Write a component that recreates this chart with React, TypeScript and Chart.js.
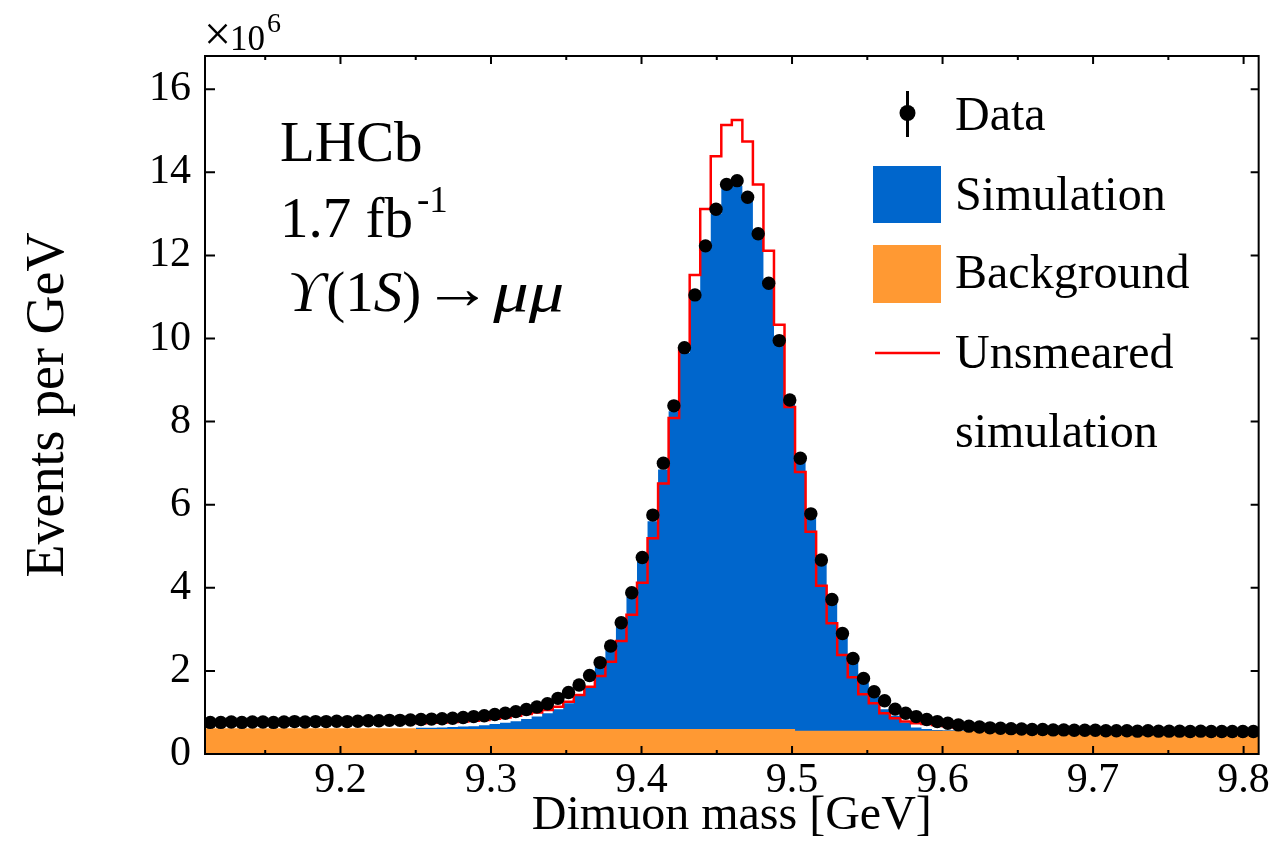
import React, { useEffect, useRef } from "react";
import { Chart, registerables } from "chart.js";

Chart.register(...registerables);

const FONT = '"Liberation Serif", "Times New Roman", "DejaVu Serif", serif';

const X_MIN = 9.11;
const X_MAX = 9.81;
const BIN_WIDTH = 0.007;
const Y_MIN = 0;
const Y_MAX = 16.8;

const xTickValues = [9.2, 9.3, 9.4, 9.5, 9.6, 9.7, 9.8];
const xMinorTickValues = [9.15, 9.25, 9.35, 9.45, 9.55, 9.65, 9.75];
const yTickValues = [0, 2, 4, 6, 8, 10, 12, 14, 16];

// Events per GeV (x10^6), 100 bins of 7 MeV from 9.11 to 9.81 GeV
const dataValues = [
  0.76, 0.76, 0.77, 0.76, 0.77, 0.77, 0.76, 0.77, 0.78, 0.77,
  0.78, 0.78, 0.79, 0.78, 0.79, 0.80, 0.80, 0.81, 0.81, 0.82,
  0.83, 0.84, 0.85, 0.86, 0.88, 0.90, 0.92, 0.95, 0.98, 1.02,
  1.07, 1.13, 1.21, 1.34, 1.48, 1.66, 1.89, 2.20, 2.60, 3.16,
  3.88, 4.73, 5.75, 7.00, 8.38, 9.78, 11.05, 12.23, 13.11, 13.71,
  13.80, 13.40, 12.52, 11.33, 9.95, 8.52, 7.12, 5.78, 4.67, 3.72,
  2.90, 2.30, 1.82, 1.50, 1.28, 1.08, 0.98, 0.90, 0.83, 0.78,
  0.74, 0.70, 0.67, 0.65, 0.63, 0.62, 0.61, 0.60, 0.59, 0.59,
  0.58, 0.58, 0.57, 0.57, 0.57, 0.56, 0.56, 0.56, 0.55, 0.56,
  0.55, 0.55, 0.55, 0.54, 0.55, 0.54, 0.54, 0.54, 0.54, 0.54,
];

const background = [
  0.62, 0.62, 0.62, 0.62, 0.62, 0.62, 0.62, 0.62, 0.62, 0.62,
  0.62, 0.62, 0.62, 0.62, 0.62, 0.62, 0.62, 0.62, 0.62, 0.62,
  0.60, 0.60, 0.60, 0.60, 0.60, 0.60, 0.60, 0.60, 0.60, 0.60,
  0.60, 0.60, 0.60, 0.60, 0.60, 0.60, 0.60, 0.60, 0.60, 0.60,
  0.60, 0.60, 0.60, 0.60, 0.60, 0.60, 0.60, 0.60, 0.60, 0.60,
  0.60, 0.60, 0.60, 0.60, 0.60, 0.60, 0.56, 0.56, 0.56, 0.56,
  0.56, 0.56, 0.56, 0.56, 0.56, 0.56, 0.56, 0.56, 0.56, 0.56,
  0.56, 0.56, 0.56, 0.56, 0.56, 0.56, 0.56, 0.56, 0.56, 0.56,
  0.56, 0.56, 0.56, 0.56, 0.56, 0.56, 0.56, 0.56, 0.56, 0.56,
  0.56, 0.56, 0.56, 0.56, 0.56, 0.56, 0.56, 0.56, 0.56, 0.56,
];

// signal simulation (stacked on background)
const simulation = [
  0, 0, 0, 0, 0, 0, 0, 0, 0, 0,
  0, 0, 0, 0, 0, 0, 0, 0, 0, 0,
  0.03, 0.03, 0.04, 0.05, 0.06, 0.07, 0.09, 0.12, 0.15, 0.19,
  0.24, 0.30, 0.38, 0.48, 0.62, 0.80, 1.02, 1.52, 1.90, 2.45,
  3.18, 4.03, 5.00, 6.25, 7.65, 9.05, 10.35, 11.55, 12.40, 13.05,
  13.08, 12.85, 11.85, 10.65, 9.28, 7.85, 6.49, 5.16, 4.04, 3.08,
  2.28, 1.66, 1.16, 0.84, 0.52, 0.36, 0.20, 0.08, 0.04, 0.02,
  0.01, 0.01, 0.01, 0.01, 0.01, 0.01, 0.01, 0.01, 0.01, 0.01,
  0, 0, 0, 0, 0, 0, 0, 0, 0, 0,
  0, 0, 0, 0, 0, 0, 0, 0, 0, 0,
];

// unsmeared signal simulation (stacked on background)
const unsmeared = [
  0, 0, 0, 0, 0, 0, 0, 0, 0, 0,
  0, 0, 0, 0, 0, 0, 0, 0, 0, 0,
  0.14, 0.15, 0.16, 0.17, 0.18, 0.20, 0.22, 0.25, 0.28, 0.32,
  0.36, 0.40, 0.46, 0.54, 0.66, 0.82, 1.02, 1.28, 1.62, 2.12,
  2.75, 3.52, 4.59, 5.91, 7.49, 9.17, 10.93, 12.52, 13.79, 14.54,
  14.66, 14.14, 13.11, 11.51, 9.73, 7.75, 6.23, 4.79, 3.49, 2.59,
  1.82, 1.29, 0.88, 0.66, 0.42, 0.30, 0.22, 0.18, 0.16, 0.14,
  0.11, 0.08, 0.06, 0.04, 0.02, 0.01, 0.01, 0, 0, 0,
  0, 0, 0, 0, 0, 0, 0, 0, 0, 0,
  0, 0, 0, 0, 0, 0, 0, 0, 0, 0,
];

const SIM_FIRST_BIN = 20;
const SIM_LAST_BIN = 80;
const UNSMEARED_FIRST_BIN = 20;

const COLORS = {
  data: "#000000",
  simulation: "#0066cc",
  background: "#ff9933",
  unsmeared: "#ff0000",
};

const edge = (k: number) => X_MIN + k * BIN_WIDTH;

function stepPoints(values: number[], from: number, to: number) {
  const pts: { x: number; y: number }[] = [];
  for (let k = from; k < to; k++) pts.push({ x: edge(k), y: values[k] });
  pts.push({ x: edge(to), y: values[to - 1] });
  return pts;
}

function drawScaledText(ctx: any, text: string, x: number, y: number, sx: number) {
  ctx.save();
  ctx.translate(x, y);
  ctx.scale(sx, 1);
  ctx.fillText(text, 0, 0);
  ctx.restore();
  return ctx.measureText(text).width * sx;
}

const decorPlugin = {
  id: "decor",
  afterDraw(chart: any) {
    const { ctx, chartArea: a, scales } = chart;
    const xs = scales.x;
    const ys = scales.y;
    ctx.save();
    ctx.strokeStyle = "#000";
    ctx.lineWidth = 2;
    ctx.beginPath();
    for (const v of yTickValues) {
      const py = ys.getPixelForValue(v);
      ctx.moveTo(a.left, py);
      ctx.lineTo(a.left + 10, py);
      ctx.moveTo(a.right, py);
      ctx.lineTo(a.right - 8, py);
    }
    for (const v of xTickValues) {
      const px = xs.getPixelForValue(v);
      ctx.moveTo(px, a.bottom);
      ctx.lineTo(px, a.bottom - 8);
      ctx.moveTo(px, a.top);
      ctx.lineTo(px, a.top + 8);
    }
    for (const v of xMinorTickValues) {
      const px = xs.getPixelForValue(v);
      ctx.moveTo(px, a.bottom);
      ctx.lineTo(px, a.bottom - 4);
      ctx.moveTo(px, a.top);
      ctx.lineTo(px, a.top + 4);
    }
    ctx.stroke();
    ctx.strokeRect(a.left, a.top, a.right - a.left, a.bottom - a.top);

    // exponent label
    ctx.fillStyle = "#000";
    ctx.textAlign = "left";
    ctx.textBaseline = "alphabetic";
    ctx.font = `48px ${FONT}`;
    ctx.fillText("\u00d7", a.left - 1, 50);
    ctx.font = `35px ${FONT}`;
    ctx.fillText("10", a.left + 25, 50);
    ctx.font = `28px ${FONT}`;
    ctx.fillText("6", a.left + 62, 32);

    // LHCb labels
    const lx = 280;
    ctx.font = `57px ${FONT}`;
    ctx.fillText("LHCb", lx, 161);
    ctx.fillText("1.7 fb", lx, 237);
    const fbw = ctx.measureText("1.7 fb").width;
    ctx.font = `37px ${FONT}`;
    ctx.fillText("-1", lx + fbw + 4, 212);

    let rx = lx + 8;
    const base = 311;
    ctx.font = `italic 57px ${FONT}`;
    ctx.fillText("\u03d2", rx, base);
    rx += ctx.measureText("\u03d2").width + 2;
    ctx.font = `57px ${FONT}`;
    ctx.fillText("(1", rx, base);
    rx += ctx.measureText("(1").width;
    ctx.font = `italic 57px ${FONT}`;
    ctx.fillText("S", rx, base);
    rx += ctx.measureText("S").width;
    ctx.font = `57px ${FONT}`;
    ctx.fillText(")", rx, base);
    rx += ctx.measureText(")").width + 2;
    ctx.font = `60px ${FONT}`;
    rx += drawScaledText(ctx, "\u2192", rx, base - 3, 1.15) + 1;
    ctx.font = `italic 58px ${FONT}`;
    drawScaledText(ctx, "\u03bc\u03bc", rx, base, 1.22);

    // legend
    const mx = 907.5;
    ctx.strokeStyle = "#000";
    ctx.lineWidth = 3;
    ctx.beginPath();
    ctx.moveTo(mx, 91);
    ctx.lineTo(mx, 137);
    ctx.stroke();
    ctx.beginPath();
    ctx.arc(mx, 113, 8, 0, Math.PI * 2);
    ctx.fillStyle = COLORS.data;
    ctx.fill();
    ctx.fillStyle = COLORS.simulation;
    ctx.fillRect(873, 166, 68, 57);
    ctx.fillStyle = COLORS.background;
    ctx.fillRect(873, 245, 68, 58);
    ctx.strokeStyle = COLORS.unsmeared;
    ctx.lineWidth = 2.5;
    ctx.beginPath();
    ctx.moveTo(875, 353);
    ctx.lineTo(940, 353);
    ctx.stroke();

    ctx.fillStyle = "#000";
    ctx.font = `48px ${FONT}`;
    const tx = 955;
    ctx.fillText("Data", tx, 130);
    ctx.fillText("Simulation", tx, 210);
    ctx.fillText("Background", tx, 288);
    ctx.fillText("Unsmeared", tx, 368);
    ctx.fillText("simulation", tx, 447);
    ctx.restore();
  },
};

export default function App() {
  const canvasRef = useRef<HTMLCanvasElement | null>(null);

  useEffect(() => {
    document.body.style.margin = "0";
    const canvas = canvasRef.current;
    if (!canvas) return;

    const centers = dataValues.map((v, k) => ({ x: edge(k) + BIN_WIDTH / 2, y: v }));
    const simTotal = simulation.map((v, k) => v + background[k]);
    const unsmTotal = unsmeared.map((v, k) => v + background[k]);

    const chart = new Chart(canvas, {
      type: "line",
      data: {
        datasets: [
          {
            label: "Data",
            data: centers,
            showLine: false,
            pointRadius: 6.7,
            pointBackgroundColor: COLORS.data,
            pointBorderWidth: 0,
            pointBorderColor: COLORS.data,
            order: 0,
          },
          {
            label: "Unsmeared simulation",
            data: stepPoints(unsmTotal, UNSMEARED_FIRST_BIN, dataValues.length),
            stepped: "before",
            borderColor: COLORS.unsmeared,
            borderWidth: 2.5,
            pointRadius: 0,
            fill: false,
            order: 1,
          },
          {
            label: "Background",
            data: stepPoints(background, 0, dataValues.length),
            stepped: "before",
            borderColor: "rgba(0,0,0,0)",
            borderWidth: 0,
            backgroundColor: COLORS.background,
            pointRadius: 0,
            fill: "origin",
            order: 2,
          },
          {
            label: "Simulation",
            data: stepPoints(simTotal, SIM_FIRST_BIN, SIM_LAST_BIN),
            stepped: "before",
            borderColor: "rgba(0,0,0,0)",
            borderWidth: 0,
            backgroundColor: COLORS.simulation,
            pointRadius: 0,
            fill: "origin",
            order: 3,
          },
        ],
      },
      options: {
        responsive: false,
        animation: false,
        devicePixelRatio: 1,
        events: [],
        layout: { padding: { top: 56, right: 10, left: 0, bottom: 0 } },
        plugins: {
          legend: { display: false },
          tooltip: { enabled: false },
        },
        scales: {
          x: {
            type: "linear",
            min: X_MIN,
            max: X_MAX,
            afterFit: (s: any) => {
              s.height = 105;
            },
            afterBuildTicks: (s: any) => {
              s.ticks = xTickValues.map((v) => ({ value: v }));
            },
            grid: { display: false, drawTicks: false },
            border: { display: false },
            ticks: {
              autoSkip: false,
              maxRotation: 0,
              padding: 2,
              color: "#000",
              font: { family: FONT, size: 42 },
              callback: (v: any) => Number(v).toFixed(1),
            },
            title: {
              display: true,
              text: "Dimuon mass [GeV]",
              color: "#000",
              font: { family: FONT, size: 48 },
              padding: { top: 0, bottom: 14 },
            },
          },
          y: {
            type: "linear",
            min: Y_MIN,
            max: Y_MAX,
            afterFit: (s: any) => {
              s.width = 205;
            },
            afterBuildTicks: (s: any) => {
              s.ticks = yTickValues.map((v) => ({ value: v }));
            },
            grid: { display: false, drawTicks: false },
            border: { display: false },
            ticks: {
              autoSkip: false,
              padding: 14,
              color: "#000",
              font: { family: FONT, size: 42 },
              callback: (v: any) => String(v),
            },
            title: {
              display: true,
              text: "Events per GeV",
              color: "#000",
              font: { family: FONT, size: 54 },
              padding: { top: 16, bottom: 0 },
            },
          },
        },
      },
      plugins: [decorPlugin],
    });

    return () => chart.destroy();
  }, []);

  return (
    <canvas
      ref={canvasRef}
      width={1272}
      height={859}
      style={{ display: "block", width: 1272, height: 859 }}
    />
  );
}
